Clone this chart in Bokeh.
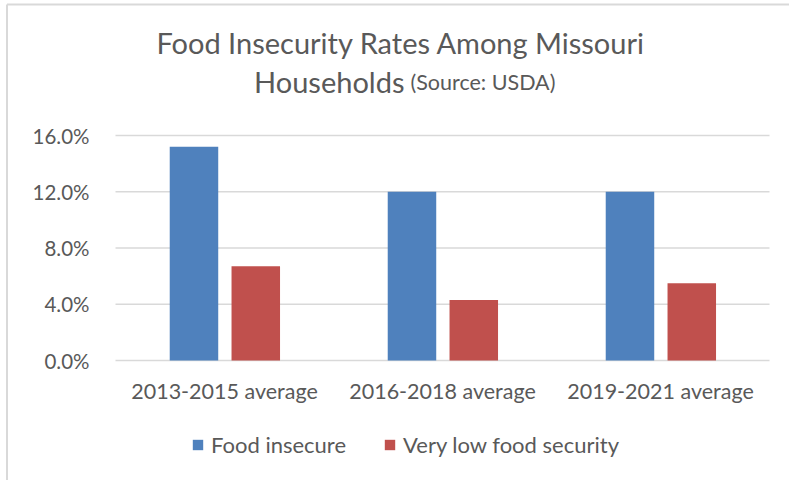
from bokeh.plotting import figure
from bokeh.models import (Range1d, ColumnDataSource, FixedTicker, NumeralTickFormatter,
                          Legend, LegendItem, Label)
from bokeh.embed import file_html
from bokeh.resources import INLINE

categories = ["2013-2015 average", "2016-2018 average", "2019-2021 average"]
food_insecure = [0.152, 0.120, 0.120]
very_low = [0.067, 0.043, 0.055]
y_ticks = [0.0, 0.04, 0.08, 0.12, 0.16]
series_names = ["Food insecure", "Very low food security"]

FONT = "Lato"
GRAY = "#595959"
BLUE = "#4F81BD"
RED = "#C0504D"
GRID = "#D9D9D9"

# canvas layout (pixels)
W, H = 789, 480
PLOT_LEFT = 115          # px where the first category band begins
BAND = 218               # px per category
ZERO_Y = 360             # px of the 0% line
PX_PER_UNIT_Y = 225 / 0.16

x_start = -PLOT_LEFT / BAND
x_end = (W - PLOT_LEFT) / BAND
y_end = ZERO_Y / PX_PER_UNIT_Y
y_start = -(H - ZERO_Y) / PX_PER_UNIT_Y

def X(px):
    return x_start + px / BAND

def Y(py):
    return y_end - py / PX_PER_UNIT_Y

p = figure(x_range=Range1d(x_start, x_end), y_range=Range1d(y_start, y_end),
           width=W, height=H, output_backend="svg", toolbar_location=None,
           min_border=0, background_fill_color="white", border_fill_color="white")
p.title.visible = False
p.outline_line_color = None
p.xgrid.visible = False
p.ygrid.visible = False

n = len(categories)
centers = [i + 0.5 for i in range(n)]

# chart-area border (top and left edges visible in the reference)
p.segment(x0=[X(6.5), X(6.5)], y0=[Y(4), Y(4)], x1=[X(6.5), X(W)], y1=[Y(H), Y(4)],
          line_color=GRID, line_width=2)

# horizontal gridlines
p.segment(x0=[0] * len(y_ticks), x1=[n] * len(y_ticks), y0=y_ticks, y1=y_ticks,
          line_color=GRID, line_width=1.3)

src = ColumnDataSource(dict(xb=[c - 0.140 for c in centers], xr=[c + 0.1435 for c in centers],
                            fi=food_insecure, vl=very_low))
r1 = p.vbar(x="xb", top="fi", width=0.2225, source=src, fill_color=BLUE, line_color=None)
r2 = p.vbar(x="xr", top="vl", width=0.2225, source=src, fill_color=RED, line_color=None)

# axes drawn at fixed positions inside the canvas
p.yaxis.fixed_location = 0
p.xaxis.fixed_location = 0
p.yaxis.ticker = FixedTicker(ticks=y_ticks)
p.yaxis.formatter = NumeralTickFormatter(format="0.0%")
p.xaxis.ticker = FixedTicker(ticks=centers)
p.xaxis.major_label_overrides = {c: lab for c, lab in zip(centers, categories)}
for ax in (p.xaxis, p.yaxis):
    ax.axis_line_color = None
    ax.major_tick_line_color = None
    ax.minor_tick_line_color = None
    ax.major_label_text_font = FONT
    ax.major_label_text_color = GRAY
p.yaxis.major_tick_out = 0
p.yaxis.major_label_text_font_size = "20.5px"
p.yaxis.major_label_standoff = 26
p.xaxis.major_label_text_font_size = "21.5px"
p.xaxis.major_label_standoff = 11

legend = Legend(items=[LegendItem(label=series_names[0], renderers=[r1]),
                       LegendItem(label=series_names[1], renderers=[r2])],
                orientation="horizontal", location=(191, 22),
                glyph_width=13, glyph_height=13, label_standoff=7, spacing=37,
                label_text_font=FONT, label_text_font_size="22px", label_text_color=GRAY,
                border_line_color=None, background_fill_alpha=0, margin=0, padding=4)
p.add_layout(legend)

p.add_layout(Label(x=X(400.5), y=Y(42), text="Food Insecurity Rates Among Missouri",
                   text_align="center", text_baseline="alphabetic",
                   text_font=FONT, text_font_size="29px", text_color=GRAY))
p.add_layout(Label(x=X(404), y=Y(81), text="Households",
                   text_align="right", text_baseline="alphabetic",
                   text_font=FONT, text_font_size="29px", text_color=GRAY))
p.add_layout(Label(x=X(410), y=Y(81), text="(Source: USDA)",
                   text_align="left", text_baseline="alphabetic",
                   text_font=FONT, text_font_size="21.5px", text_color=GRAY))

open("out.html", "w").write(file_html(p, INLINE))
